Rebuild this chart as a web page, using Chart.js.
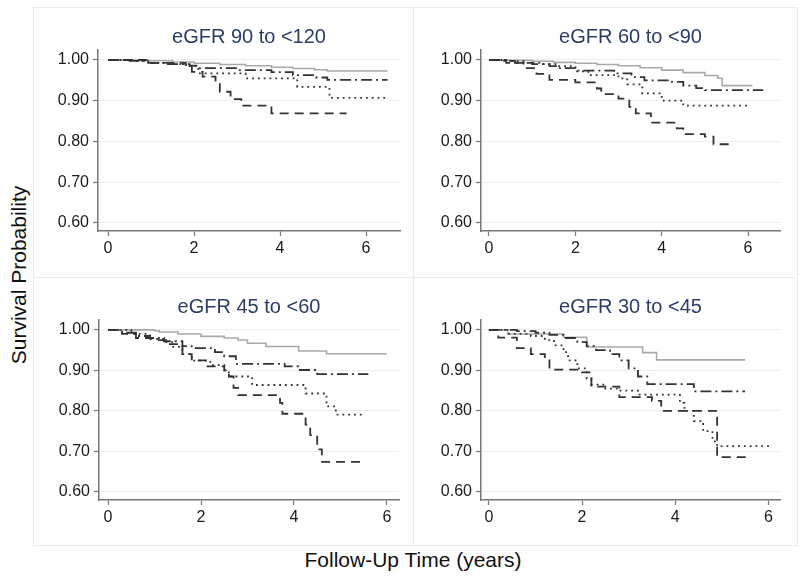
<!DOCTYPE html>
<html>
<head>
<meta charset="utf-8">
<script src="https://cdn.jsdelivr.net/npm/chart.js@4.4.1/dist/chart.umd.min.js"></script>
<style>
  html, body { margin: 0; padding: 0; background: #fff; }
  body { width: 800px; height: 582px; position: relative; overflow: hidden;
         font-family: "Liberation Sans", Arial, Helvetica, sans-serif; }
  .frame { position: absolute; border: 1px solid #ececec; box-sizing: border-box; }
  canvas { position: absolute; }
  .ytitle { position: absolute; left: 19px; top: 275px; font-size: 21px; line-height: 24px;
            color: #111; white-space: nowrap; transform: translate(-50%, -50%) rotate(-90deg); }
  .xtitle { position: absolute; left: 413px; top: 548px; font-size: 21px; line-height: 24px;
            color: #111; white-space: nowrap; transform: translateX(-50%); }
</style>
</head>
<body>
<div class="frame" style="left:33px;top:7px;width:381px;height:271px;"></div>
<div class="frame" style="left:413px;top:7px;width:385px;height:271px;"></div>
<div class="frame" style="left:33px;top:277px;width:381px;height:269px;"></div>
<div class="frame" style="left:413px;top:277px;width:385px;height:269px;"></div>

<canvas id="c1" width="380" height="270" style="left:33px;top:7px;"></canvas>
<canvas id="c2" width="384" height="270" style="left:413px;top:7px;"></canvas>
<canvas id="c3" width="380" height="268" style="left:33px;top:277px;"></canvas>
<canvas id="c4" width="384" height="268" style="left:413px;top:277px;"></canvas>

<div class="ytitle">Survival Probability</div>
<div class="xtitle">Follow-Up Time (years)</div>

<script>
// ---------- DATA (Kaplan-Meier steps: [time in years, survival]) ----------
const panelTitles = ["eGFR 90 to <120", "eGFR 60 to <90", "eGFR 45 to <60", "eGFR 30 to <45"];
const xTicks = [0, 2, 4, 6];
const yTicks = [0.60, 0.70, 0.80, 0.90, 1.00];

// Panel 1: eGFR 90 to <120
const p1Solid   = [[0,1],[0.8,0.998],[1.5,0.995],[2.0,0.992],[2.6,0.989],[3.2,0.986],[3.8,0.982],[4.3,0.979],[4.8,0.976],[5.1,0.973],[6.5,0.973]];
const p1DashDot = [[0,1],[0.5,0.998],[0.9,0.993],[1.3,0.99],[1.9,0.986],[2.1,0.98],[3.0,0.975],[3.8,0.97],[4.3,0.963],[4.8,0.957],[5.1,0.951],[6.5,0.951]];
const p1Dotted  = [[0,1],[0.6,0.997],[1.0,0.993],[1.5,0.99],[1.9,0.985],[2.1,0.967],[3.2,0.955],[4.4,0.934],[5.15,0.907],[6.5,0.907]];
const p1Dashed  = [[0,1],[0.9,0.993],[1.8,0.988],[1.95,0.971],[2.2,0.959],[2.5,0.947],[2.6,0.922],[2.85,0.904],[3.1,0.888],[3.8,0.869],[5.55,0.869]];

// Panel 2: eGFR 60 to <90
const p2Solid   = [[0,1],[0.5,0.999],[1.0,0.997],[1.5,0.994],[2.0,0.992],[2.5,0.989],[3.0,0.986],[3.5,0.981],[4.0,0.975],[4.5,0.969],[5.0,0.962],[5.3,0.955],[5.4,0.937],[6.1,0.937]];
const p2DashDot = [[0,1],[0.3,0.998],[0.6,0.993],[1.0,0.99],[1.4,0.985],[1.6,0.98],[2.0,0.974],[2.9,0.967],[3.3,0.958],[3.6,0.95],[4.2,0.946],[4.5,0.937],[4.8,0.931],[5.0,0.926],[6.35,0.926]];
const p2Dotted  = [[0,1],[0.4,0.997],[0.8,0.993],[1.2,0.99],[1.6,0.985],[2.0,0.972],[2.3,0.963],[3.0,0.955],[3.2,0.94],[3.55,0.918],[4.0,0.9],[4.5,0.888],[6.05,0.888]];
const p2Dashed  = [[0,1],[0.4,0.993],[0.8,0.98],[1.1,0.966],[1.4,0.951],[2.0,0.945],[2.5,0.93],[2.6,0.916],[3.0,0.905],[3.25,0.885],[3.4,0.869],[3.75,0.846],[4.35,0.832],[4.5,0.818],[5.0,0.812],[5.2,0.793],[5.6,0.793]];

// Panel 3: eGFR 45 to <60
const p3Solid   = [[0,1],[1.0,0.998],[1.1,0.995],[1.5,0.99],[2.0,0.984],[2.5,0.98],[2.8,0.975],[3.0,0.967],[3.4,0.959],[4.1,0.948],[4.7,0.941],[6.0,0.941]];
const p3DashDot = [[0,1],[0.3,0.993],[0.6,0.985],[0.9,0.978],[1.2,0.972],[1.6,0.96],[1.8,0.955],[2.3,0.945],[2.5,0.935],[2.75,0.916],[3.8,0.91],[4.1,0.901],[4.5,0.891],[5.6,0.891]];
const p3Dotted  = [[0,1],[0.5,0.99],[0.9,0.98],[1.2,0.97],[1.4,0.958],[1.6,0.94],[1.8,0.924],[2.2,0.913],[2.5,0.9],[2.6,0.885],[3.1,0.864],[4.25,0.843],[4.7,0.811],[4.9,0.791],[5.5,0.791]];
const p3Dashed  = [[0,1],[0.3,0.99],[0.6,0.98],[1.0,0.975],[1.3,0.965],[1.6,0.94],[1.8,0.925],[2.1,0.91],[2.5,0.9],[2.6,0.885],[2.7,0.857],[2.8,0.839],[3.7,0.82],[3.75,0.793],[4.25,0.766],[4.35,0.74],[4.5,0.705],[4.6,0.674],[5.5,0.674]];

// Panel 4: eGFR 30 to <45
const p4Solid   = [[0,1],[0.4,0.99],[1.6,0.982],[2.1,0.958],[3.3,0.944],[3.6,0.926],[5.5,0.926]];
const p4DashDot = [[0,1],[0.6,0.997],[1.0,0.993],[1.3,0.988],[1.6,0.98],[1.9,0.97],[2.1,0.96],[2.3,0.95],[2.6,0.94],[2.8,0.925],[3.0,0.905],[3.2,0.885],[3.4,0.866],[4.4,0.848],[5.5,0.848]];
const p4Dotted  = [[0,1],[0.4,0.99],[0.9,0.985],[1.2,0.975],[1.4,0.962],[1.6,0.945],[1.7,0.925],[1.9,0.905],[2.1,0.88],[2.2,0.865],[2.5,0.855],[2.8,0.85],[3.2,0.84],[4.1,0.82],[4.2,0.8],[4.4,0.775],[4.6,0.75],[4.8,0.725],[4.9,0.713],[6.05,0.713]];
const p4Dashed  = [[0,1],[0.2,0.981],[0.6,0.955],[0.9,0.94],[1.2,0.925],[1.3,0.902],[2.0,0.895],[2.2,0.86],[2.8,0.834],[3.5,0.825],[3.7,0.8],[4.9,0.686],[5.6,0.686]];

const panelSeries = [
  [p1Solid, p1DashDot, p1Dotted, p1Dashed],
  [p2Solid, p2DashDot, p2Dotted, p2Dashed],
  [p3Solid, p3DashDot, p3Dotted, p3Dashed],
  [p4Solid, p4DashDot, p4Dotted, p4Dashed]
];

// ---------- STYLES / LAYOUT ----------
const seriesStyles = [
  { color: '#a9a9a9', width: 1.6, dash: [] },
  { color: '#333333', width: 1.8, dash: [11, 4, 2, 4] },
  { color: '#333333', width: 1.8, dash: [1.8, 4] },
  { color: '#333333', width: 1.8, dash: [9, 6] }
];
const panelLayout = [
  { id: 'c1', xMin: -0.233, xMax: 6.79, padLeft: 15, padRight: 13, xH: 46 },
  { id: 'c2', xMin: -0.185, xMax: 6.74, padLeft: 18, padRight: 17, xH: 46 },
  { id: 'c3', xMin: -0.195, xMax: 6.26, padLeft: 16, padRight: 14, xH: 45 },
  { id: 'c4', xMin: -0.17,  xMax: 6.25, padLeft: 18, padRight: 17, xH: 45 }
];
const FONT = '"Liberation Sans", Arial, Helvetica, sans-serif';

panelLayout.forEach((L, i) => {
  const datasets = panelSeries[i].map((pts, k) => ({
    data: pts.map(p => ({ x: p[0], y: p[1] })),
    borderColor: seriesStyles[k].color,
    borderWidth: seriesStyles[k].width,
    borderDash: seriesStyles[k].dash,
    stepped: 'before',
    pointRadius: 0,
    fill: false,
    order: 4 - k
  }));
  new Chart(document.getElementById(L.id), {
    type: 'line',
    data: { datasets },
    options: {
      responsive: false,
      animation: false,
      events: [],
      layout: { padding: { left: L.padLeft, right: L.padRight, top: 0, bottom: 0 } },
      plugins: {
        legend: { display: false },
        tooltip: { enabled: false },
        title: {
          display: true,
          text: panelTitles[i],
          fullSize: false,
          color: '#2b3d66',
          font: { family: FONT, size: 20, weight: 'normal' },
          padding: { top: 18, bottom: 1 }
        }
      },
      scales: {
        x: {
          type: 'linear',
          min: L.xMin, max: L.xMax,
          afterBuildTicks: s => { s.ticks = xTicks.map(v => ({ value: v })); },
          afterFit: s => { s.height = L.xH; },
          ticks: { color: '#1a1a1a', font: { family: FONT, size: 16 }, padding: 3, maxRotation: 0, autoSkip: false,
                   callback: v => String(v) },
          grid: { drawOnChartArea: false, drawTicks: true, tickLength: 5, tickColor: '#777', tickWidth: 1.2 },
          border: { color: '#777', width: 1.5 }
        },
        y: {
          type: 'linear',
          min: 0.58, max: 1.0245,
          afterBuildTicks: s => { s.ticks = yTicks.map(v => ({ value: v })); },
          afterFit: s => { s.width = 50; },
          ticks: { color: '#1a1a1a', font: { family: FONT, size: 16 }, padding: 4, autoSkip: false,
                   callback: v => Number(v).toFixed(2) },
          grid: { color: '#eeeeee', lineWidth: 1, drawTicks: true, tickLength: 5, tickColor: '#777', tickWidth: 1.2 },
          border: { color: '#777', width: 1.5 }
        }
      }
    }
  });
});
</script>
</body>
</html>
